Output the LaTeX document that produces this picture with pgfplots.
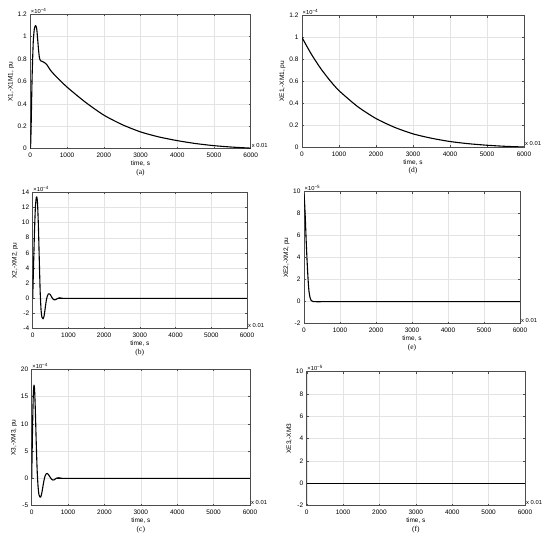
\documentclass[border=0pt]{standalone}
\usepackage{fontspec}
\setmainfont{Liberation Sans}
\newfontfamily\seriffont{Liberation Serif}
\usepackage{pgfplots}
\pgfplotsset{compat=1.18}
\pgfplotsset{
  panel/.style={
    scale only axis,
    anchor=south west,
    xmin=0, xmax=6000,
    xtick={0,1000,...,6000},
    grid=major,
    major grid style={gray!22, line width=0.4pt},
    axis line style={black!70, line width=0.6pt},
    tick align=inside, major tick length=2pt,
    tick style={black!70, line width=0.4pt},
    ticklabel style={font=\fontsize{6.5}{7.5}\selectfont, text=black},
    xticklabel style={yshift=-1pt},
    label style={font=\fontsize{6.5}{7.5}\selectfont, text=black},
    xlabel={time, s},
    xlabel style={yshift=3.5pt},
    ylabel style={yshift=-3pt},
    scaled ticks=false,
    /pgf/number format/assume math mode=true,
    /pgf/number format/1000 sep={},
    clip mode=individual,
  },
}
\tikzset{
  curve/.style={black, line width=1.1pt, mark=none, smooth, tension=0.4, line join=round},
  exlab/.style={font=\fontsize{5.8}{6.5}\selectfont, text=black},
  caplab/.style={font=\seriffont\fontsize{7.5}{8.5}\selectfont, text=black},
}
\newcommand{\expo}[1]{×10\raisebox{0.7ex}{\fontsize{4.5}{5}\selectfont −#1}}
\begin{document}
\begin{tikzpicture}
\path[use as bounding box] (0,0) rectangle (550pt,540pt);

% (a)
\begin{axis}[panel, at={(30.3pt,391.3pt)}, width=220.4pt, height=134.4pt,
  ymin=0, ymax=1.2, ytick={0,0.2,...,1.2}, ylabel={X1,-X1M1, pu}]
\addplot[curve] coordinates {(0,0) (12,0.05) (25,0.24) (50,0.65) (80,0.95) (110,1.07) (145,1.10) (175,1.07) (200,0.98) (225,0.88) (250,0.81) (280,0.785) (320,0.78) (380,0.77) (450,0.75) (550,0.70) (700,0.645) (1000,0.55) (1500,0.415) (2000,0.30) (2500,0.215) (3000,0.15) (3500,0.105) (4000,0.072) (4500,0.046) (5000,0.027) (5500,0.014) (6000,0.005)};
\node[exlab, anchor=south west, inner sep=0.5pt] at (rel axis cs:0,1) {\expo{4}};
\node[exlab, anchor=west, inner sep=1pt] at ([yshift=3pt]rel axis cs:1,0) {x 0.01};
\node[caplab] at ([yshift=-24pt]rel axis cs:0.5,0) {(a)};
\end{axis}

% (d)
\begin{axis}[panel, at={(302pt,393pt)}, width=222pt, height=131.3pt,
  ymin=0, ymax=1.2, ytick={0,0.2,...,1.2}, ylabel={XE1,-XM1, pu}]
\addplot[curve] coordinates {(0,1.0) (250,0.85) (500,0.72) (750,0.61) (1000,0.515) (1500,0.37) (2000,0.26) (2500,0.18) (3000,0.12) (3500,0.08) (4000,0.05) (4500,0.03) (5000,0.016) (5500,0.006) (6000,0.0)};
\node[exlab, anchor=south west, inner sep=0.5pt] at (rel axis cs:0,1) {\expo{4}};
\node[exlab, anchor=west, inner sep=1pt] at ([yshift=3pt]rel axis cs:1,0) {x 0.01};
\node[caplab] at ([yshift=-24pt]rel axis cs:0.5,0) {(d)};
\end{axis}

% (b)
\begin{axis}[panel, at={(32.7pt,211.3pt)}, width=214.3pt, height=136.4pt,
  ymin=-4, ymax=14, ytick={-4,-2,...,14}, ylabel={X2,-XM2, pu}]
\addplot[curve] coordinates {(0,0) (25,4.5) (50,8.8) (75,12) (100,13.3) (115,13.4) (135,12.6) (160,9.5) (185,5) (210,0.8) (235,-1.6) (260,-2.5) (290,-2.7) (320,-2.3) (350,-1.3) (380,-0.3) (410,0.3) (440,0.6) (470,0.6) (500,0.45) (540,0.1) (580,-0.15) (620,-0.2) (660,-0.12) (700,0) (750,0.08) (790,0.05) (850,0) (1000,0) (6000,0)};
\node[exlab, anchor=south west, inner sep=0.5pt] at (rel axis cs:0,1) {\expo{4}};
\node[exlab, anchor=west, inner sep=1pt] at ([yshift=3pt]rel axis cs:1,0) {x 0.01};
\node[caplab] at ([yshift=-24pt]rel axis cs:0.5,0) {(b)};
\end{axis}

% (e)
\begin{axis}[panel, at={(304pt,216.3pt)}, width=216pt, height=132pt,
  ymin=-2, ymax=10, ytick={-2,0,...,10}, ylabel={XE2,-XM2, pu}]
\addplot[curve] coordinates {(0,9.8) (20,8.8) (40,7.3) (60,5.6) (80,4.1) (100,2.8) (120,1.7) (140,0.9) (170,0.35) (200,0.1) (250,0.02) (300,0) (1000,0) (6000,0)};
\node[exlab, anchor=south west, inner sep=0.5pt] at (rel axis cs:0,1) {\expo{5}};
\node[exlab, anchor=west, inner sep=1pt] at ([yshift=3pt]rel axis cs:1,0) {x 0.01};
\node[caplab] at ([yshift=-24pt]rel axis cs:0.5,0) {(e)};
\end{axis}

% (c)
\begin{axis}[panel, at={(31.7pt,34.3pt)}, width=218.3pt, height=136.4pt,
  ymin=-5, ymax=20, ytick={-5,0,...,20}, ylabel={X3,-XM3, pu}]
\addplot[curve] coordinates {(0,0) (15,6) (30,11.5) (45,15.5) (63,17.1) (80,16.2) (100,12.5) (125,6.5) (150,1.5) (175,-1.5) (200,-3) (225,-3.4) (250,-3.4) (280,-2.6) (310,-1.4) (340,-0.3) (370,0.5) (400,0.85) (430,0.9) (460,0.7) (500,0.3) (540,-0.1) (580,-0.3) (620,-0.25) (660,-0.05) (700,0.1) (750,0.12) (800,0.05) (850,0) (1000,0) (6000,0)};
\node[exlab, anchor=south west, inner sep=0.5pt] at (rel axis cs:0,1) {\expo{4}};
\node[exlab, anchor=west, inner sep=1pt] at ([yshift=3pt]rel axis cs:1,0) {x 0.01};
\node[caplab] at ([yshift=-24pt]rel axis cs:0.5,0) {(c)};
\end{axis}

% (f)
\begin{axis}[panel, at={(306.7pt,34.3pt)}, width=218.3pt, height=134pt,
  ymin=-2, ymax=10, ytick={-2,0,...,10}, ylabel={XE3,-XM3}]
\addplot[curve] coordinates {(0,0) (1000,0) (2000,0) (3000,0) (4000,0) (5000,0) (6000,0)};
\node[exlab, anchor=south west, inner sep=0.5pt] at (rel axis cs:0,1) {\expo{5}};
\node[exlab, anchor=west, inner sep=1pt] at ([yshift=3pt]rel axis cs:1,0) {x 0.01};
\node[caplab] at ([yshift=-24pt]rel axis cs:0.5,0) {(f)};
\end{axis}
\end{tikzpicture}
\end{document}
